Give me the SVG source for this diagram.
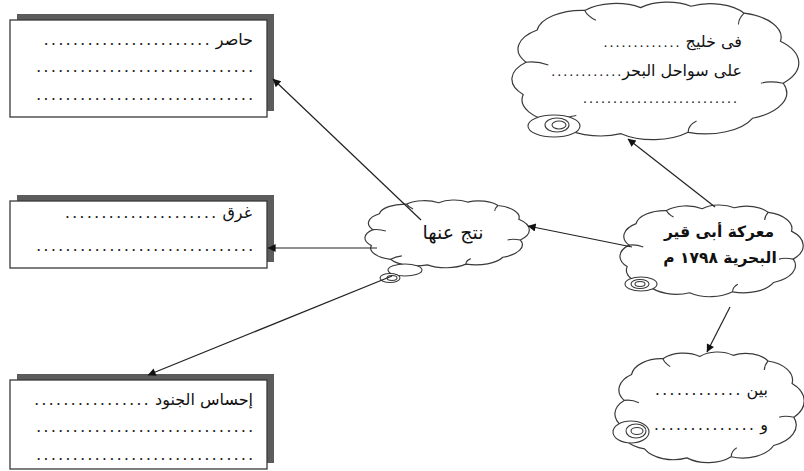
<svg xmlns="http://www.w3.org/2000/svg" width="804" height="471" viewBox="0 0 804 471">
<style>
.bg{fill:#fff}
.box{fill:#fff;stroke:#3a3a3a;stroke-width:1.3}
.shadow{fill:#5c5c5c}
.cloud{fill:#fff;stroke:#3a3a3a;stroke-width:1.2;vector-effect:non-scaling-stroke}
.hook{fill:none;stroke:#3a3a3a;stroke-width:1.1;vector-effect:non-scaling-stroke}
.tail{fill:#fff;stroke:#3a3a3a;stroke-width:1.1}
.t{font-family:"DejaVu Sans","Liberation Sans",sans-serif;font-size:16px;fill:#111}
.dt{font-family:"Liberation Mono",monospace;font-size:12.2px;font-weight:bold;fill:#222}
.dts{font-family:"Liberation Mono",monospace;font-size:10px;font-weight:bold;fill:#222}
.b{font-weight:bold;font-size:15.5px}
.big{font-size:19px}
.conn line{stroke:#222;stroke-width:1.2;marker-end:url(#ah)}
</style>
<defs>
<marker id="ah" viewBox="0 0 10 10" refX="9.5" refY="5" markerWidth="10" markerHeight="8" markerUnits="userSpaceOnUse" orient="auto">
<path d="M0,0 L10,5 L0,10 z" fill="#111"/>
</marker>
</defs>
<rect class="bg" x="0" y="0" width="804" height="471"/>

<g id="box-hasir">
<rect class="shadow" x="17" y="14" width="257" height="97"/>
<rect class="box" x="10" y="20" width="257" height="97"/>
<text class="t" x="253" y="45" direction="rtl" text-anchor="start">حاصر <tspan class="dt">.......................</tspan></text>
<text class="dt" x="35" y="72">..............................</text>
<text class="dt" x="35" y="100">..............................</text>
</g>

<g id="box-gharaq">
<rect class="shadow" x="17" y="195" width="257" height="67"/>
<rect class="box" x="10" y="201" width="257" height="67"/>
<text class="t" x="252" y="218" direction="rtl" text-anchor="start">غرق <tspan class="dt">.....................</tspan></text>
<text class="dt" x="35" y="251">..............................</text>
</g>

<g id="box-ihsas">
<rect class="shadow" x="17" y="374" width="257" height="89"/>
<rect class="box" x="10" y="380" width="257" height="89"/>
<text class="t" x="253" y="405" direction="rtl" text-anchor="start">إحساس الجنود <tspan class="dt">................</tspan></text>
<text class="dt" x="35" y="432">..............................</text>
<text class="dt" x="35" y="460">..............................</text>
</g>

<g id="cloud-top">
<g transform="translate(514.8,-0.8) scale(2.796,1.401)">
<path class="cloud" d="M4,45 A16.9,16.9 0 0 1 8,22 A16.2,16.2 0 0 1 25,8 A14.9,14.9 0 0 1 45,6 A13.5,13.5 0 0 1 63,5 A14.2,14.2 0 0 1 82,10 A17.6,17.6 0 0 1 95,30 A21.6,21.6 0 0 1 96,60 A19.6,19.6 0 0 1 85,85 A18.2,18.2 0 0 1 62,95 A17.6,17.6 0 0 1 38,96 A17.6,17.6 0 0 1 15,88 A16.9,16.9 0 0 1 3,68 A16.9,16.9 0 0 1 4,45 Z"/>
<path class="hook" d="M4,45 Q8,44 12,47 M25,8 Q26,12 29,15 M82,10 Q80,14 80,18 M96,60 Q91,58 88,60 M62,95 Q62,90 65,87 M15,88 Q18,84 22,83"/>
</g>
<ellipse class="tail" cx="554" cy="126" rx="26" ry="11"/>
<ellipse class="tail" cx="557" cy="125" rx="12" ry="7"/>
<ellipse class="tail" cx="559" cy="125" rx="7" ry="4"/>
<text class="t" x="742" y="47" direction="rtl" text-anchor="start">فى خليج <tspan class="dts">.............</tspan></text>
<text class="t" x="742" y="76" direction="rtl" text-anchor="start">على سواحل البحر<tspan class="dts">............</tspan></text>
<text class="dts" x="738" y="103" text-anchor="end">..........................</text>
</g>

<g id="cloud-center">
<g transform="translate(366.6,198.6) scale(1.602,0.690)">
<path class="cloud" d="M4,45 A16.9,16.9 0 0 1 8,22 A16.2,16.2 0 0 1 25,8 A14.9,14.9 0 0 1 45,6 A13.5,13.5 0 0 1 63,5 A14.2,14.2 0 0 1 82,10 A17.6,17.6 0 0 1 95,30 A21.6,21.6 0 0 1 96,60 A19.6,19.6 0 0 1 85,85 A18.2,18.2 0 0 1 62,95 A17.6,17.6 0 0 1 38,96 A17.6,17.6 0 0 1 15,88 A16.9,16.9 0 0 1 3,68 A16.9,16.9 0 0 1 4,45 Z"/>
<path class="hook" d="M4,45 Q8,44 12,47 M25,8 Q26,12 29,15 M82,10 Q80,14 80,18 M96,60 Q91,58 88,60 M62,95 Q62,90 65,87 M15,88 Q18,84 22,83"/>
</g>
<ellipse class="tail" cx="405" cy="270" rx="17" ry="6"/>
<ellipse class="tail" cx="390" cy="278" rx="10" ry="4.5"/>
<ellipse class="tail" cx="392" cy="278" rx="5" ry="2.5"/>
<text class="t big" x="453" y="239" direction="rtl" text-anchor="middle">نتج عنها</text>
</g>

<g id="cloud-main">
<g transform="translate(621.8,203.1) scale(1.786,0.934)">
<path class="cloud" d="M4,45 A16.9,16.9 0 0 1 8,22 A16.2,16.2 0 0 1 25,8 A14.9,14.9 0 0 1 45,6 A13.5,13.5 0 0 1 63,5 A14.2,14.2 0 0 1 82,10 A17.6,17.6 0 0 1 95,30 A21.6,21.6 0 0 1 96,60 A19.6,19.6 0 0 1 85,85 A18.2,18.2 0 0 1 62,95 A17.6,17.6 0 0 1 38,96 A17.6,17.6 0 0 1 15,88 A16.9,16.9 0 0 1 3,68 A16.9,16.9 0 0 1 4,45 Z"/>
<path class="hook" d="M4,45 Q8,44 12,47 M25,8 Q26,12 29,15 M82,10 Q80,14 80,18 M96,60 Q91,58 88,60 M62,95 Q62,90 65,87"/>
</g>
<ellipse class="tail" cx="641" cy="284" rx="16" ry="7"/>
<ellipse class="tail" cx="640" cy="284" rx="9" ry="4.5"/>
<ellipse class="tail" cx="640" cy="284" rx="5" ry="2.5"/>
<text class="t b" x="719" y="237" direction="rtl" text-anchor="middle">معركة أبى قير</text>
<text class="t b" x="720" y="263" direction="rtl" text-anchor="middle">البحرية ١٧٩٨ م</text>
</g>

<g id="cloud-bottom">
<g transform="translate(616.8,349.7) scale(1.845,1.127)">
<path class="cloud" d="M4,45 A16.9,16.9 0 0 1 8,22 A16.2,16.2 0 0 1 25,8 A14.9,14.9 0 0 1 45,6 A13.5,13.5 0 0 1 63,5 A14.2,14.2 0 0 1 82,10 A17.6,17.6 0 0 1 95,30 A21.6,21.6 0 0 1 96,60 A19.6,19.6 0 0 1 85,85 A18.2,18.2 0 0 1 62,95 A17.6,17.6 0 0 1 38,96 A17.6,17.6 0 0 1 15,88 A16.9,16.9 0 0 1 3,68 A16.9,16.9 0 0 1 4,45 Z"/>
<path class="hook" d="M4,45 Q8,44 12,47 M25,8 Q26,12 29,15 M82,10 Q80,14 80,18 M96,60 Q91,58 88,60 M62,95 Q62,90 65,87"/>
</g>
<ellipse class="tail" cx="631" cy="432" rx="18" ry="11"/>
<ellipse class="tail" cx="636" cy="431" rx="10" ry="7"/>
<ellipse class="tail" cx="637" cy="431" rx="6" ry="3.5"/>
<text class="t" x="768" y="395" direction="rtl" text-anchor="start">بين <tspan class="dt">............</tspan></text>
<text class="t" x="768" y="430" direction="rtl" text-anchor="start">و <tspan class="dt">..............</tspan></text>
</g>

<g id="connectors" class="conn">
<line x1="421" y1="220" x2="273" y2="79"/>
<line x1="377" y1="248" x2="268" y2="248"/>
<line x1="392" y1="276" x2="148" y2="375"/>
<line x1="632" y1="247" x2="528" y2="226"/>
<line x1="715" y1="207" x2="628" y2="139"/>
<line x1="730" y1="307" x2="707" y2="352"/>
</g>
</svg>
